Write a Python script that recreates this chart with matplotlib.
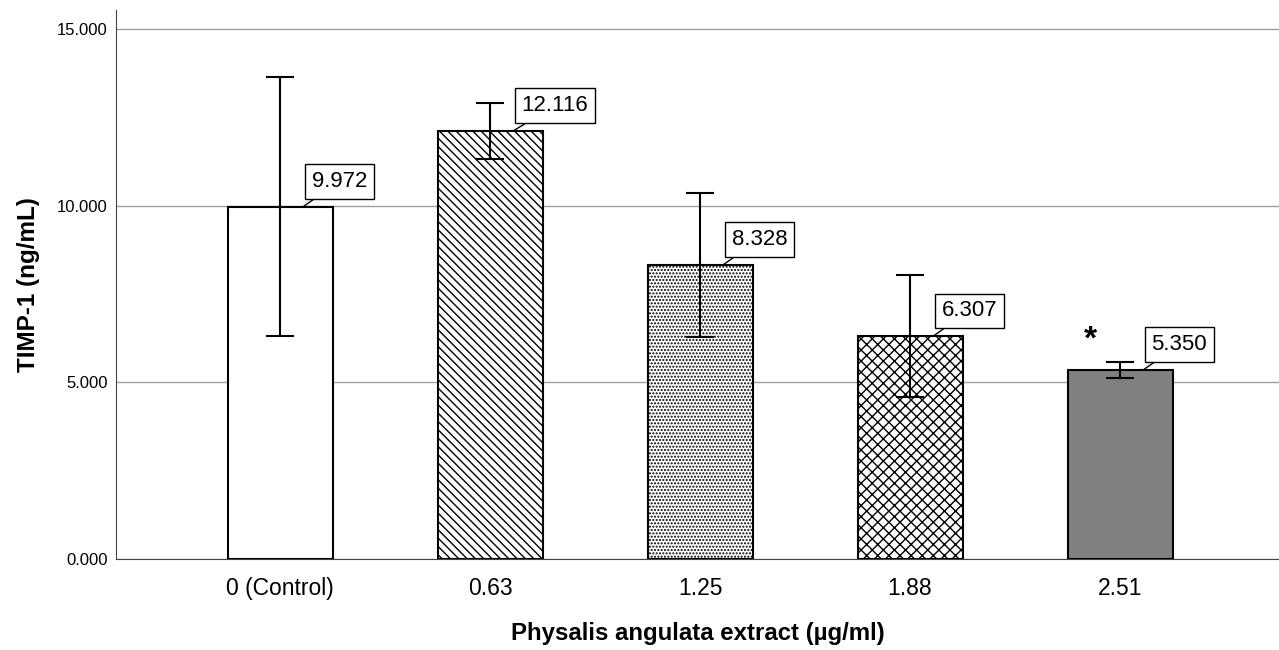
import numpy as np
import matplotlib.pyplot as plt

plt.rcParams['font.family'] = ['Liberation Sans', 'DejaVu Sans']

# данные
doses = ['0 (Control)', '0.63', '1.25', '1.88', '2.51']
means = [9.972, 12.116, 8.328, 6.307, 5.350]
errs = [3.66, 0.80, 2.03, 1.73, 0.23]
labels = ['9.972', '12.116', '8.328', '6.307', '5.350']
hatches = ['', '\\\\\\\\', '.....', 'xxx', '']
faces = ['white', 'white', 'white', 'white', '#808080']

fig = plt.figure(figsize=(12.79, 6.5), dpi=100)
ax = fig.add_axes([0.0907, 0.14, 0.9093, 0.8446])

x = np.arange(len(doses))
plt.rcParams['hatch.linewidth'] = 1.0
for i in x:
    ax.bar(x[i], means[i], width=0.5, color=faces[i], edgecolor='black',
           hatch=hatches[i], linewidth=1.5, zorder=3)
ax.errorbar(x, means, yerr=errs, fmt='none', ecolor='black', elinewidth=1.5,
            capsize=10, capthick=1.5, zorder=4)

# подписи значений
for i in x:
    ax.annotate(labels[i], xy=(x[i] + 0.11, means[i]),
                xytext=(x[i] + 0.15, means[i] + 0.42),
                fontsize=16, ha='left', va='bottom', zorder=5,
                bbox=dict(boxstyle='square,pad=0.3', fc='white', ec='black', lw=1),
                arrowprops=dict(arrowstyle='-', color='black', lw=1,
                                shrinkA=0, shrinkB=0))

ax.text(x[4] - 0.14, 5.35 + 0.4, '*', fontsize=24, fontweight='bold',
        ha='center', va='bottom')

ax.set_xlim(-0.781, 4.757)
ax.set_ylim(0, 15.54)
ax.set_yticks([0, 5, 10, 15])
ax.set_yticklabels(['0.000', '5.000', '10.000', '15.000'], fontsize=12)
ax.set_xticks(x)
ax.set_xticklabels(doses, fontsize=16.5)
ax.tick_params(length=0)
ax.tick_params(axis='x', pad=13)
ax.tick_params(axis='y', pad=6)
ax.yaxis.grid(True, color='#a0a0a0', linewidth=1, zorder=0)
ax.set_axisbelow(True)
for s in ['top', 'right']:
    ax.spines[s].set_visible(False)
ax.spines['left'].set_color('#444444')
ax.spines['bottom'].set_color('#444444')

ax.set_ylabel('TIMP-1 (ng/mL)', fontsize=17.5, fontweight='bold', labelpad=12)
ax.set_xlabel('Physalis angulata extract (µg/ml)', fontsize=17.3, fontweight='bold', labelpad=16)

fig.savefig('out.png', dpi=100)
